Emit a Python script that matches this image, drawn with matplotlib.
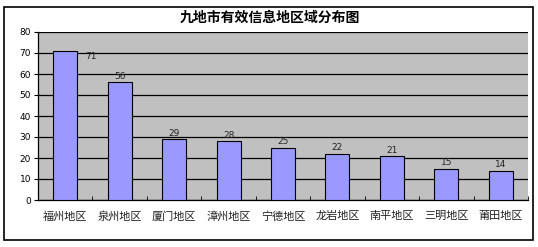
import matplotlib.pyplot as plt
import numpy as np
from matplotlib.patches import Rectangle

plt.rcParams['font.family'] = ['Noto Sans CJK SC', 'DejaVu Sans']

regions = ['福州地区', '泉州地区', '厦门地区', '漳州地区', '宁德地区',
           '龙岩地区', '南平地区', '三明地区', '莆田地区']
counts = [71, 56, 29, 28, 25, 22, 21, 15, 14]
yticks = [0, 10, 20, 30, 40, 50, 60, 70, 80]

W, H = 538, 247
fig = plt.figure(figsize=(W / 100, H / 100), dpi=100)

# outer chart frame
fig.patches.append(Rectangle((4 / W, 1 - 240 / H), 529 / W, 233 / H,
                             transform=fig.transFigure, fill=False,
                             edgecolor='black', linewidth=1.2))

ax = fig.add_axes([38 / W, 1 - 200 / H, 490 / W, 168 / H])
ax.set_facecolor('#C0C0C0')

x = np.arange(len(regions))
ax.bar(x, counts, width=0.44, color='#9999FF', edgecolor='black',
       linewidth=0.8, zorder=3)

for i, v in enumerate(counts):
    if i == 0:
        ax.annotate(str(v), (i + 0.22, v), xytext=(6, -4),
                    textcoords='offset points', ha='left', va='center',
                    fontsize=6.5, family='DejaVu Sans', color='#222222')
    else:
        ax.annotate(str(v), (i, v), xytext=(0, 1),
                    textcoords='offset points', ha='center', va='bottom',
                    fontsize=6.5, family='DejaVu Sans', color='#222222')

ax.set_xlim(-0.5, len(regions) - 0.5)
ax.set_ylim(0, 80)
ax.set_yticks(yticks)
ax.set_yticklabels([str(t) for t in yticks], fontsize=6.5, family='DejaVu Sans')
ax.yaxis.grid(True, color='black', linewidth=0.9, zorder=1)
ax.set_axisbelow(True)

ax.set_xticks(x)
ax.set_xticklabels(regions, fontsize=8, color='#222222')
ax.tick_params(axis='x', length=0, pad=8)
ax.set_xticks(np.arange(-0.5, len(regions), 1), minor=True)
ax.tick_params(axis='x', which='minor', direction='in', length=3)
ax.tick_params(axis='y', length=3, width=0.8, pad=2)

for side in ['top', 'right']:
    ax.spines[side].set_visible(False)
ax.spines['left'].set_linewidth(0.9)
ax.spines['bottom'].set_linewidth(0.9)

fig.text(270 / W, 1 - 18 / H, '九地市有效信息地区域分布图', ha='center',
         va='center', fontsize=10, fontweight='bold')

fig.savefig('out.png', dpi=100)
